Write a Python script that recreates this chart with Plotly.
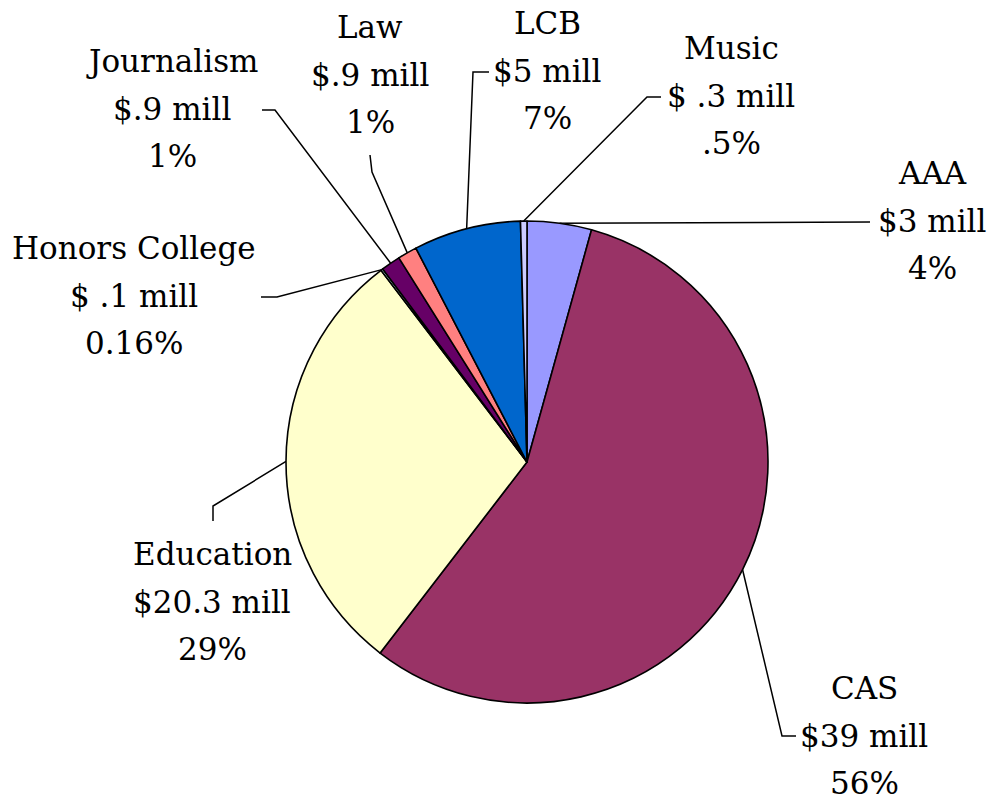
import math
import plotly.graph_objects as go

# ---- data ----
schools = ["AAA", "CAS", "Education", "Honors College", "Journalism", "Law", "LCB", "Music"]
dollars_mill = [3, 39, 20.3, 0.1, 0.9, 0.9, 5, 0.3]
dollar_labels = ["$3 mill", "$39 mill", "$20.3 mill", "$ .1 mill", "$.9 mill", "$.9 mill", "$5 mill", "$ .3 mill"]
percent_labels = ["4%", "56%", "29%", "0.16%", "1%", "1%", "7%", ".5%"]
colors = ["#9999FF", "#993366", "#FFFFCC", "#CCFFFF", "#660066", "#FF8080", "#0066CC", "#CCCCFF"]

# ---- layout (pixels) ----
W, H = 993, 803
CX, CY, R = 527, 462, 241
LINE_GAP = 47.5
FONT = "DejaVu Serif"
FSIZE = 31

# label: center x, first line center y ; leader: points after the slice anchor
label_pos = {
    "AAA": (932, 172),
    "CAS": (864, 687),
    "Education": (212, 553),
    "Honors College": (134, 247),
    "Journalism": (172, 60),
    "Law": (370, 26),
    "LCB": (547, 22),
    "Music": (731, 47),
}
leader_pts = {
    "AAA": [(870, 222)],
    "CAS": [(782, 736), (796, 736)],
    "Education": [(213, 506), (213, 521)],
    "Honors College": [(277, 297), (261, 297)],
    "Journalism": [(275, 110), (262, 110)],
    "Law": [(372, 172), (370, 155)],
    "LCB": [(473, 72), (489, 72)],
    "Music": [(647, 97), (661, 97)],
}

fig = go.Figure()

fig.add_trace(go.Pie(
    labels=schools, values=dollars_mill, sort=False, direction="clockwise", rotation=0,
    marker=dict(colors=colors, line=dict(color="black", width=1.6)),
    textinfo="none", hoverinfo="label+value+percent", showlegend=False,
    domain=dict(x=[(CX - R) / W, (CX + R) / W], y=[1 - (CY + R) / H, 1 - (CY - R) / H]),
))

total = sum(dollars_mill)
cum = 0.0
annotations = []
for name, v, dl, pl in zip(schools, dollars_mill, dollar_labels, percent_labels):
    mid = (cum + v / 2) / total * 2 * math.pi
    cum += v
    ax = CX + R * math.sin(mid)
    ay = CY - R * math.cos(mid)
    pts = [(ax, ay)] + leader_pts[name]
    fig.add_trace(go.Scatter(
        x=[p[0] for p in pts], y=[p[1] for p in pts], mode="lines",
        line=dict(color="black", width=1.5), hoverinfo="skip", showlegend=False,
    ))
    lx, ly = label_pos[name]
    for i, t in enumerate([name, dl, pl]):
        annotations.append(dict(
            x=lx, y=ly + i * LINE_GAP + 1, xref="x", yref="y", text=t, showarrow=False,
            xanchor="center", yanchor="middle", font=dict(family=FONT, size=FSIZE, color="black"),
        ))

fig.update_layout(
    width=W, height=H, margin=dict(l=0, r=0, t=0, b=0),
    paper_bgcolor="white", plot_bgcolor="rgba(0,0,0,0)",
    xaxis=dict(range=[0, W], visible=False, fixedrange=True),
    yaxis=dict(range=[H, 0], visible=False, fixedrange=True),
    annotations=annotations,
)

fig.write_html(
    "out.html",
    config={"displayModeBar": False},
    post_script="document.body.style.margin='0';document.body.style.overflow='hidden';",
)
